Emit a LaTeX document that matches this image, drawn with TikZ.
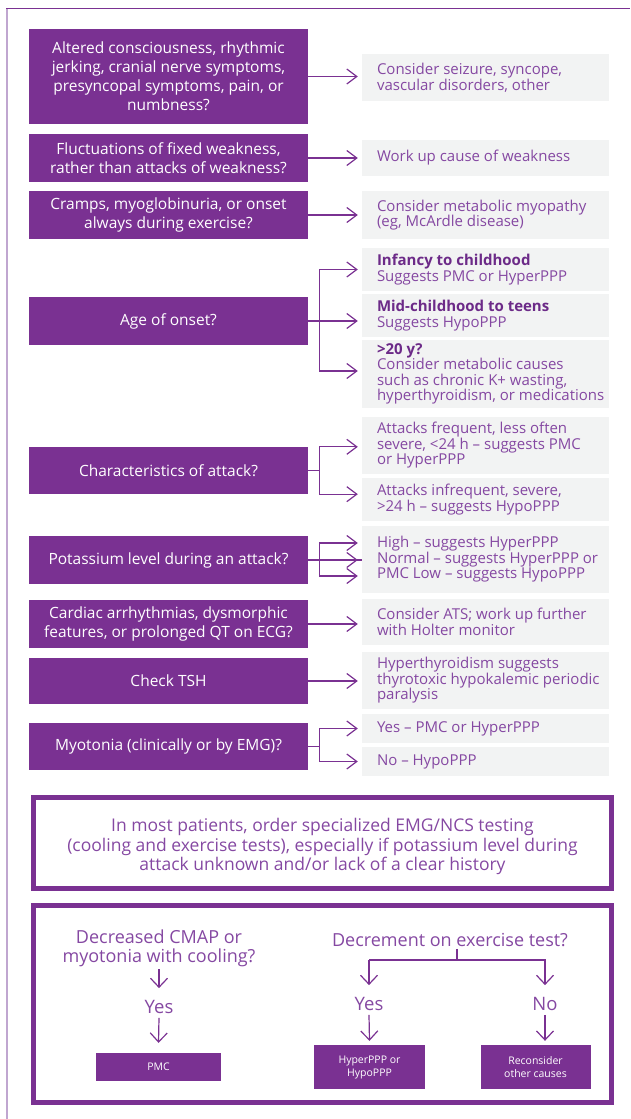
\documentclass[tikz,border=0pt]{standalone}
\usepackage{fontspec}
\setmainfont{Open Sans}
\usetikzlibrary{arrows.meta,calc}
\definecolor{plum}{HTML}{7A3192}
\definecolor{panel}{HTML}{F2F3F3}
\definecolor{plumtext}{HTML}{8548A2}
\definecolor{plumdark}{HTML}{6C2A88}
\definecolor{lavender}{HTML}{C0A6D0}

\begin{document}
\begin{tikzpicture}[x=1pt,y=-1pt,
  qbox/.style={fill=plum, text=white, align=center, inner sep=0pt,
    minimum width=279pt, font=\fontsize{15.5}{19}\selectfont},
  abox/.style={fill=panel, inner sep=0pt, minimum width=247pt},
  atext/.style={anchor=west, text=plumtext, align=left, inner sep=0pt,
    font=\fontsize{15}{15.5}\selectfont},
  link/.style={draw=plum, line width=1.2pt},
  arr/.style={link, -{Straight Barb[length=10pt,width=15pt]}, shorten >=4pt},
  darr/.style={link, -{Straight Barb[length=9pt,width=17pt]}},
  heavybox/.style={draw=plum, line width=5pt, inner sep=0pt,
    minimum width=578pt},
  ptext/.style={text=plumtext, align=center, inner sep=0pt},
  smallbox/.style={fill=plum, text=white, align=center, inner sep=0pt,
    font=\fontsize{10.5}{13}\selectfont},
]
\useasboundingbox (0,0) rectangle (630,1119);

% page frame
\draw[lavender, line width=2.5pt] (7,8) -- (7,1119);
\draw[plum, line width=1pt] (6,8) -- (630,8);

% ---- question column ----
\node[qbox, minimum height=95pt] (q1) at (168.5,76.5)
  {Altered consciousness, rhythmic\\jerking, cranial nerve symptoms,\\presyncopal symptoms, pain, or\\numbness?};
\node[qbox, minimum height=48pt] (q2) at (168.5,158)
  {Fluctuations of fixed weakness,\\rather than attacks of weakness?};
\node[qbox, minimum height=48pt] (q3) at (168.5,215)
  {Cramps, myoglobinuria, or onset\\always during exercise?};
\node[qbox, minimum height=48pt] (q4) at (168.5,321) {Age of onset?};
\node[qbox, minimum height=47pt] (q5) at (168.5,470.5) {Characteristics of attack?};
\node[qbox, minimum height=48pt] (q6) at (168.5,560) {Potassium level during an attack?};
\node[qbox, minimum height=48pt] (q7) at (168.5,624)
  {Cardiac arrhythmias, dysmorphic\\features, or prolonged QT on ECG?};
\node[qbox, minimum height=46pt] (q8) at (168.5,681) {Check TSH};
\node[qbox, minimum height=47pt] (q9) at (168.5,746.5) {Myotonia (clinically or by EMG)?};

% ---- answer column ----
\node[abox, minimum height=47pt] (a1) at (485.5,77.5) {};
\node[atext, font=\fontsize{15}{14}\selectfont] (a1t) at ([xshift=15pt]a1.west)
  {Consider seizure, syncope,\\vascular disorders, other};
\node[abox, minimum height=35.5pt] (a2) at (485.5,157.75) {};
\node[atext] (a2t) at ([xshift=15pt]a2.west) {Work up cause of weakness};
\node[abox, minimum height=48pt] (a3) at (485.5,215) {};
\node[atext] (a3t) at ([xshift=15pt]a3.west)
  {Consider metabolic myopathy\\(eg, McArdle disease)};
\node[abox, minimum height=43pt] (a4a) at (485.5,269.5) {};
\node[atext] (a4at) at ([xshift=15pt]a4a.west)
  {\textbf{\textcolor{plumdark}{Infancy to childhood}}\\Suggests PMC or HyperPPP};
\node[abox, minimum height=43pt] (a4b) at (485.5,315.5) {};
\node[atext] (a4bt) at ([xshift=15pt]a4b.west)
  {\textbf{\textcolor{plumdark}{Mid-childhood to teens}}\\Suggests HypoPPP};
\node[abox, minimum height=68pt] (a4c) at (485.5,374) {};
\node[atext] (a4ct) at ([xshift=15pt]a4c.west)
  {\textbf{\textcolor{plumdark}{>20 y?}}\\Consider metabolic causes\\such as chronic K+ wasting,\\hyperthyroidism, or medications};
\node[abox, minimum height=57pt] (a5a) at (485.5,445.5) {};
\node[atext] (a5at) at ([xshift=15pt]a5a.west)
  {Attacks frequent, less often\\severe, <24 h – suggests PMC\\or HyperPPP};
\node[abox, minimum height=43pt] (a5b) at (485.5,499.5) {};
\node[atext] (a5bt) at ([xshift=15pt]a5b.west)
  {Attacks infrequent, severe,\\>24 h – suggests HypoPPP};
\node[abox, minimum height=67pt] (a6) at (485.5,559.5) {};
\node[atext] (a6t) at ([xshift=15pt]a6.west)
  {High – suggests HyperPPP\\Normal – suggests HyperPPP or\\PMC Low – suggests HypoPPP};
\node[abox, minimum height=46pt] (a7) at (485.5,622) {};
\node[atext] (a7t) at ([xshift=15pt]a7.west)
  {Consider ATS; work up further\\with Holter monitor};
\node[abox, minimum height=57pt] (a8) at (485.5,680.5) {};
\node[atext] (a8t) at ([xshift=15pt]a8.west)
  {Hyperthyroidism suggests\\thyrotoxic hypokalemic periodic\\paralysis};
\node[abox, minimum height=29pt] (a9a) at (485.5,728.5) {};
\node[atext] (a9at) at ([xshift=15pt]a9a.west) {Yes – PMC or HyperPPP};
\node[abox, minimum height=29pt] (a9b) at (485.5,761.5) {};
\node[atext] (a9bt) at ([xshift=15pt]a9b.west) {No – HypoPPP};

% ---- single connectors ----
\foreach \q/\a in {q1/a1, q2/a2, q3/a3, q7/a7, q8/a8}
  \draw[arr] (\q.east) -- (\q.east -| \a.west);

% ---- branching connectors ----
\coordinate (j4) at ($(q4.east)+(11,0)$);
\draw[link] (q4.east) -- (j4);
\draw[arr] (j4) |- (a4a.west);
\draw[arr] (j4) -- (j4 -| a4b.west);
\draw[arr] (j4) |- ($(a4c.west)+(0,-3)$);

\coordinate (j5) at ($(q5.east)+(11,0)$);
\draw[link] (q5.east) -- (j5);
\draw[arr] (j5) |- (q5.north -| a5a.west);
\draw[arr] (j5) |- (q5.south -| a5b.west);

\coordinate (j6) at ($(q6.east)+(11,0)$);
\draw[link] (q6.east) -- (j6 -| a6.west);
\draw[arr] (j6) -- (j6 -| a6.west);
\draw[arr] (j6) |- ($(j6 -| a6.west)+(0,-17)$);
\draw[arr] (j6) |- ($(j6 -| a6.west)+(0,16)$);

\coordinate (j9) at ($(q9.east)+(11,0)$);
\draw[link] (q9.east) -- (j9);
\draw[arr] (j9) |- (a9a.west);
\draw[arr] (j9) |- (a9b.west);

% ---- testing note ----
\node[heavybox, minimum height=91pt] (notebox) at (322.5,843) {};
\node[ptext, font=\fontsize{17.5}{19.5}\selectfont] (note) at (322.5,846.5)
  {In most patients, order specialized EMG/NCS testing\\(cooling and exercise tests), especially if potassium level during\\attack unknown and/or lack of a clear history};

% ---- EMG/NCS results ----
\node[heavybox, minimum height=197pt] (testbox) at (322.5,1004) {};

\node[ptext, font=\fontsize{18}{19}\selectfont] (cool) at (159,948.5)
  {Decreased CMAP or\\myotonia with cooling?};
\node[ptext, font=\fontsize{18.5}{19}\selectfont] (cyes) at (159,1007) {Yes};
\node[smallbox, minimum width=125pt, minimum height=28pt] (pmc) at (158.5,1067) {PMC};

\node[ptext, font=\fontsize{18}{19}\selectfont] (exer) at (450,940) {Decrement on exercise test?};
\node[ptext, font=\fontsize{18.5}{19}\selectfont] (eyes) at (369,1004) {Yes};
\node[ptext, font=\fontsize{18.5}{19}\selectfont] (eno) at (545,1004) {No};
\node[smallbox, minimum width=111pt, minimum height=44pt] (hyp) at (369.5,1067) {HyperPPP or\\HypoPPP};
\node[smallbox, minimum width=110pt, minimum height=44pt] (recon) at (535.5,1067) {Reconsider\\other causes};

\draw[darr] ([yshift=-2pt]cool.south) -- ([yshift=12pt]cyes.north);
\draw[darr] ([yshift=-4pt]cyes.south) -- ([yshift=10pt]pmc.north);

\coordinate (split) at ($(exer.south -| 457,0)+(0,13)$);
\draw[link] ([yshift=-2pt]exer.south -| split) -- (split);
\draw[darr] (split -| eyes) -- ([yshift=12pt]eyes.north);
\draw[darr] (split) -| ([yshift=12pt]eno.north);
\draw[link] (split) -- (split -| eyes);
\draw[darr] ([yshift=-4pt]eyes.south) -- ([yshift=4pt]hyp.north);
\draw[darr] ([yshift=-4pt]eno.south) -- ([yshift=4pt]recon.north -| eno);
\end{tikzpicture}
\end{document}
